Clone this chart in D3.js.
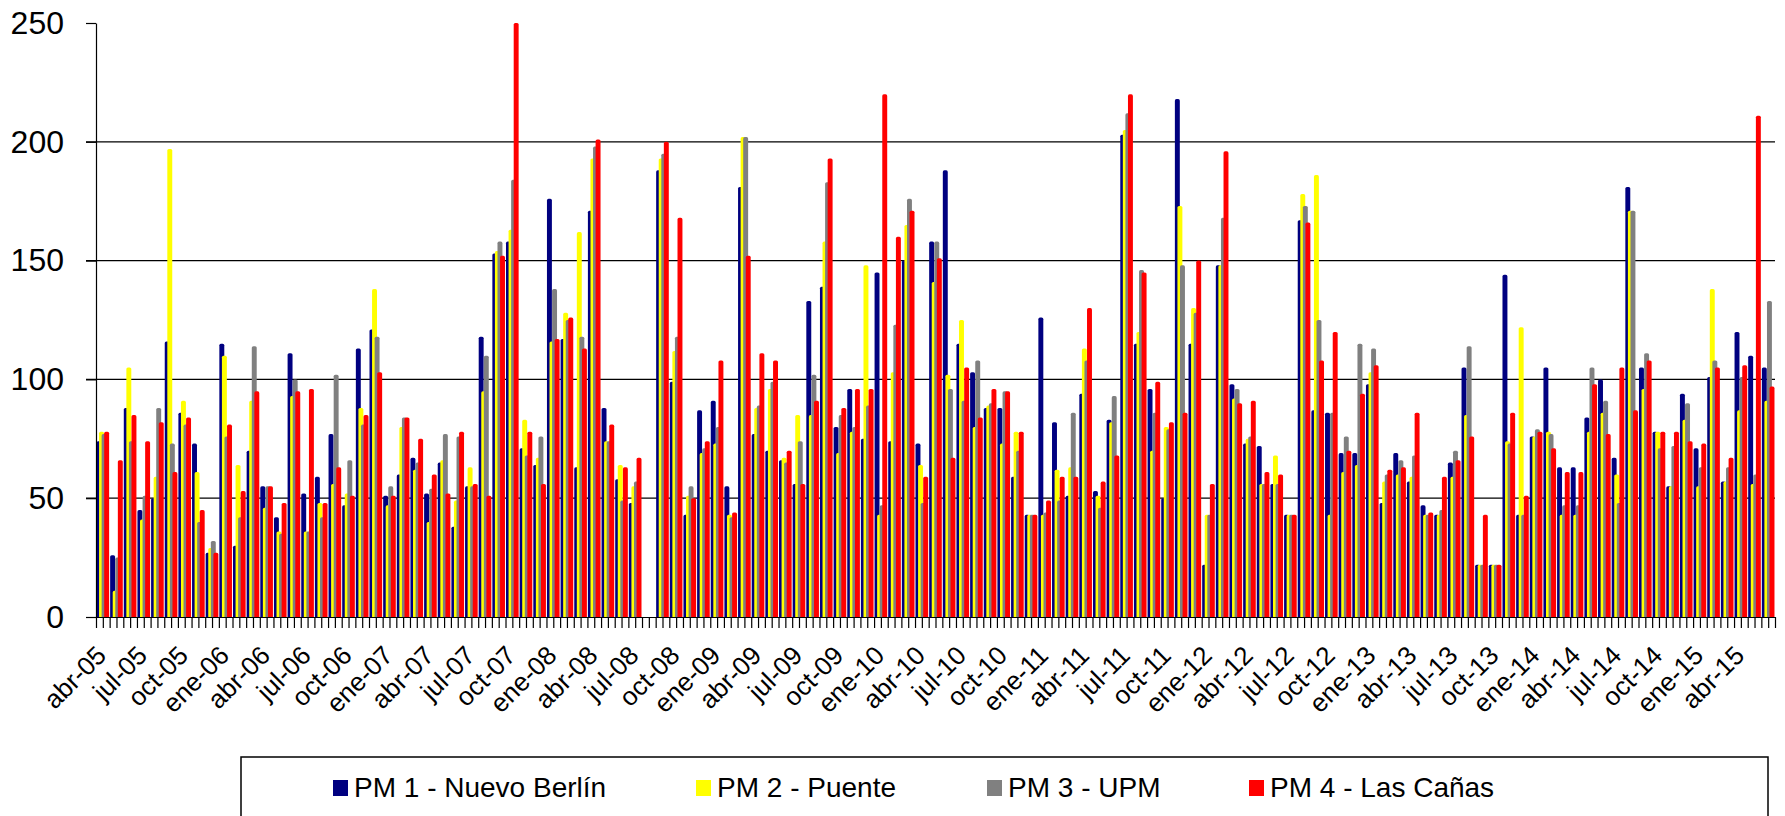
<!DOCTYPE html>
<html>
<head>
<meta charset="utf-8" />
<title>PM</title>
<style>
  html, body { margin: 0; background: #fff; }
  svg { display: block; font-family: "Liberation Sans", Arial, sans-serif; }
  .grid line { stroke: #000; stroke-width: 1.2px; }
  .axis path, .axis line { stroke: #000; stroke-width: 1.2px; }
  .axis text { fill: #000; }
</style>
</head>
<body>
<div id="container"></div>
<script src="https://cdn.jsdelivr.net/npm/d3@7"></script>
<script>
// meses abr-05 .. jun-15 (123), ago-08 sin datos
var monthNames = ["ene", "feb", "mar", "abr", "may", "jun", "jul", "ago", "sep", "oct", "nov", "dic"];
var categories = d3.range(123).map(function(i) {
  var m = i + 3;
  return monthNames[m % 12] + "-" + d3.format("02")(5 + Math.floor(m / 12));
});

var tickLabels = ["abr-05", "jul-05", "oct-05", "ene-06", "abr-06", "jul-06", "oct-06", "ene-07",
  "abr-07", "jul-07", "oct-07", "ene-08", "abr-08", "jul-08", "oct-08", "ene-09", "abr-09",
  "jul-09", "oct-09", "ene-10", "abr-10", "jul-10", "oct-10", "ene-11", "abr-11", "jul-11",
  "oct-11", "ene-12", "abr-12", "jul-12", "oct-12", "ene-13", "abr-13", "jul-13", "oct-13",
  "ene-14", "abr-14", "jul-14", "oct-14", "ene-15", "abr-15"];

var seriesNames = ["PM 1 - Nuevo Berlín", "PM 2 - Puente", "PM 3 - UPM", "PM 4 - Las Cañas"];
var colors = ["#000080", "#ffff00", "#808080", "#ff0000"];

var pm1 = [74, 26, 88, 45, 50, 116, 86, 73, 27, 115, 30, 70, 55, 42, 111, 52, 59, 77, 47, 113,
  121, 51, 60, 67, 52, 65, 38, 55, 118, 153, 158, 71, 64, 176, 117, 63, 171, 88, 58, 48,
  null, 188, 99, 43, 87, 91, 55, 181, 77, 70, 66, 56, 133, 139, 80, 96, 75, 145, 74, 150,
  73, 158, 188, 115, 103, 88, 88, 59, 43, 126, 82, 51, 94, 53, 83, 203, 115, 96, 50, 218,
  115, 22, 148, 98, 73, 72, 56, 43, 167, 87, 86, 69, 69, 98, 48, 69, 57, 47, 43, 65,
  105, 22, 22, 144, 43, 76, 105, 63, 63, 84, 100, 67, 181, 105, 78, 55, 94, 71, 101, 57,
  120, 110, 105];

var pm2 = [78, 11, 105, 41, 59, 197, 91, 61, 29, 110, 64, 91, 46, 36, 93, 36, 48, 56, 52, 88,
  138, 47, 80, 62, 40, 66, 49, 63, 95, 154, 163, 83, 67, 116, 128, 162, 193, 74, 64, 55,
  null, 193, 112, 51, 69, 73, 43, 202, 88, 96, 67, 85, 85, 158, 69, 78, 148, 43, 103, 165,
  64, 141, 102, 125, 80, 89, 73, 78, 43, 43, 62, 63, 113, 51, 82, 205, 120, 70, 80, 173,
  130, 43, 148, 92, 75, 56, 68, 43, 178, 186, 43, 61, 64, 103, 57, 60, 59, 43, 43, 59,
  85, 22, 22, 74, 122, 76, 78, 43, 43, 78, 86, 60, 171, 96, 78, 55, 83, 55, 138, 57,
  87, 56, 91];

var pm3 = [77, 25, 74, 51, 88, 73, 81, 40, 32, 76, 42, 114, 55, 35, 100, 36, 42, 102, 66, 81,
  118, 55, 84, 65, 54, 77, 76, 55, 110, 158, 184, 68, 76, 138, 125, 118, 198, 74, 49, 57,
  null, 195, 118, 55, 71, 80, 42, 202, 89, 99, 65, 74, 102, 183, 85, 80, 89, 47, 123, 176,
  48, 158, 96, 91, 108, 90, 95, 70, 43, 44, 49, 86, 108, 46, 93, 212, 146, 86, 79, 148,
  128, 43, 168, 96, 76, 56, 56, 43, 173, 125, 86, 76, 115, 113, 60, 66, 68, 43, 45, 70,
  114, 22, 22, 73, 43, 79, 77, 47, 47, 105, 91, 48, 171, 111, 71, 72, 90, 63, 108, 63,
  101, 60, 133];

var pm4 = [78, 66, 85, 74, 82, 61, 84, 45, 27, 81, 53, 95, 55, 48, 95, 96, 48, 63, 51, 85,
  103, 51, 84, 75, 60, 52, 78, 56, 51, 152, 250, 78, 56, 117, 126, 113, 201, 81, 63, 67,
  null, 200, 168, 50, 74, 108, 44, 152, 111, 108, 70, 56, 91, 193, 88, 96, 96, 220, 160, 171,
  59, 151, 67, 105, 84, 96, 95, 78, 43, 49, 59, 59, 130, 57, 68, 220, 145, 99, 82, 86,
  150, 56, 196, 90, 91, 61, 60, 43, 166, 108, 120, 70, 94, 106, 62, 63, 86, 44, 59, 66,
  76, 43, 22, 86, 51, 78, 71, 61, 61, 98, 77, 105, 87, 108, 78, 78, 74, 73, 105, 67,
  106, 211, 97];

var series = [pm1, pm2, pm3, pm4];
var yTicks = [0, 50, 100, 150, 200, 250];

var width = 1785, height = 816;
var plotLeft = 96, plotRight = 1775, plotTop = 23, plotBottom = 617;

var svg = d3.select("#container").append("svg")
    .attr("width", width)
    .attr("height", height);

var x = d3.scaleBand()
    .domain(categories)
    .range([plotLeft, plotRight])
    .padding(0);

var y = d3.scaleLinear()
    .domain([0, 250])
    .range([plotBottom, plotTop]);

// lineas de grilla
svg.append("g")
    .attr("class", "grid")
  .selectAll("line")
  .data(yTicks.filter(function(d) { return d > 0 && d < 250; }))
  .enter().append("line")
    .attr("x1", plotLeft - 10)
    .attr("x2", plotRight)
    .attr("y1", function(d) { return y(d); })
    .attr("y2", function(d) { return y(d); });

// barras solapadas: ancho 0.362, paso 0.188 de la banda
var bw = x.bandwidth();
function barPath(x0, y0, w, h) {
  var r = Math.min(1.6, h);
  return "M" + x0 + "," + (y0 + h) +
    "V" + (y0 + r) +
    "Q" + x0 + "," + y0 + " " + (x0 + r) + "," + y0 +
    "H" + (x0 + w - r) +
    "Q" + (x0 + w) + "," + y0 + " " + (x0 + w) + "," + (y0 + r) +
    "V" + (y0 + h) + "Z";
}

series.forEach(function(vals, k) {
  svg.append("g")
    .selectAll("path")
    .data(vals.map(function(v, i) { return {cat: categories[i], v: v}; })
              .filter(function(d) { return d.v != null; }))
    .enter().append("path")
      .attr("fill", colors[k])
      .attr("d", function(d) {
        var x0 = x(d.cat) + bw * (0.036 + k * 0.188);
        return barPath(x0, y(d.v), bw * 0.362, plotBottom - y(d.v));
      });
});

// eje y
var yAxis = svg.append("g")
    .attr("class", "axis")
    .attr("transform", "translate(" + plotLeft + ",0)")
    .call(d3.axisLeft(y).tickValues(yTicks).tickSize(10).tickSizeOuter(0).tickPadding(22));
yAxis.selectAll("text")
    .style("font-size", "32px");

// eje x: marcas cada media banda
var xLin = d3.scaleLinear().domain([0, categories.length]).range([plotLeft, plotRight]);
svg.append("g")
    .attr("class", "axis")
    .attr("transform", "translate(0," + plotBottom + ")")
    .call(d3.axisBottom(xLin)
      .tickValues(d3.range(0, categories.length + 0.5, 0.5))
      .tickSize(11).tickSizeOuter(0).tickFormat(""));

svg.append("g")
  .selectAll("text")
  .data(tickLabels)
  .enter().append("text")
    .attr("transform", function(d, i) {
      var cx = x(categories[i * 3]) + bw / 2 + 5;
      return "translate(" + cx + "," + (plotBottom + 40) + ") rotate(-45)";
    })
    .attr("text-anchor", "end")
    .style("font-size", "26px")
    .text(function(d) { return d; });

// leyenda
var legend = svg.append("g");
legend.append("rect")
    .attr("x", 241).attr("y", 757)
    .attr("width", 1527).attr("height", 90)
    .attr("fill", "#fff")
    .attr("stroke", "#000")
    .attr("stroke-width", 1.5);

var legendX = [333, 696, 987, 1249];
seriesNames.forEach(function(name, k) {
  legend.append("rect")
      .attr("x", legendX[k]).attr("y", 780)
      .attr("width", 15).attr("height", 16)
      .attr("fill", colors[k]);
  legend.append("text")
      .attr("x", legendX[k] + 21).attr("y", 797)
      .style("font-size", "28px")
      .text(name);
});
</script>
</body>
</html>
